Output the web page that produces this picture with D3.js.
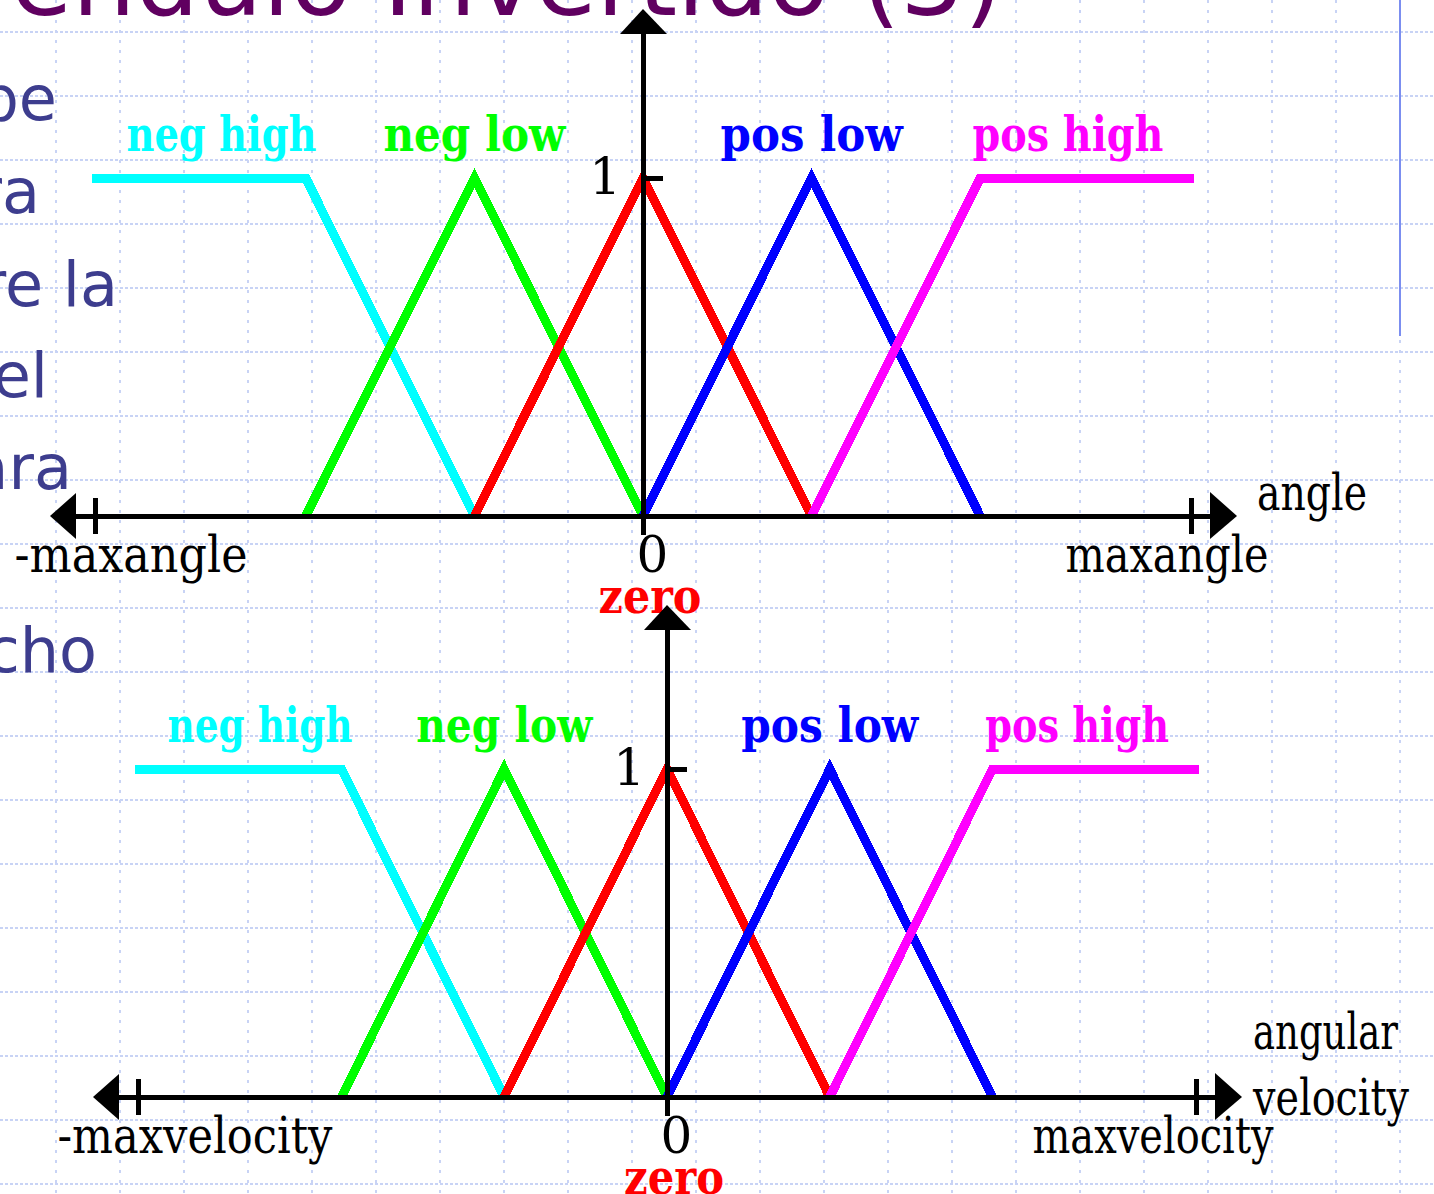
<!DOCTYPE html>
<html lang="es">
<head>
<meta charset="utf-8">
<title>Péndulo Invertido (3)</title>
<script src="https://cdnjs.cloudflare.com/ajax/libs/d3/7.8.5/d3.min.js"></script>
<style>
  body { margin: 0; background: #fff; }
  .grid line { stroke: #c8d3f5; stroke-width: 2; }
  .grid .h { stroke-dasharray: 3, 2; }
  .grid .v { stroke-dasharray: 3, 7; }
  .mf { fill: none; stroke-width: 9; shape-rendering: crispEdges; }
  .ax { stroke: #000; stroke-width: 5; shape-rendering: crispEdges; }
  .head { fill: #000; stroke: none; }
  .lab { font-family: "DejaVu Serif", serif; font-size: 50px; fill: #000; }
  .set { font-family: "DejaVu Serif", serif; font-size: 48px; font-weight: bold; }
  .bullet { font-family: "DejaVu Sans", Verdana, sans-serif; font-size: 62px; fill: #3d3d8e; }
  .title { font-family: "DejaVu Sans", Verdana, sans-serif; font-size: 100px; fill: #600060; }
</style>
</head>
<body>
<script>
// fuzzy sets, same shape for angle and angular velocity
const setNames = ["neg high", "neg low", "zero", "pos low", "pos high"];
const setColors = ["#00ffff", "#00ff00", "#ff0000", "#0000ff", "#ff00ff"];
const negHigh = [[-3.27, 1], [-2, 1], [-1, 0]];
const negLow = [[-2, 0], [-1, 1], [0, 0]];
const zero = [[-1, 0], [0, 1], [1, 0]];
const posLow = [[0, 0], [1, 1], [2, 0]];
const posHigh = [[1, 0], [2, 1], [3.27, 1]];
const sets = [negHigh, negLow, zero, posLow, posHigh];
const setLabelAt = [-2.5, -1, 0, 1, 2.52];

const maxValue = 3.25;
const angleTicks = ["-maxangle", "0", "maxangle"];
const velocityTicks = ["-maxvelocity", "0", "maxvelocity"];
const angleName = ["angle"];
const velocityName = ["angular", "velocity"];

const titleText = "Péndulo Invertido (3)";
const bulletText = ["be", "ra", "re la", "el", "ara", "cho"];

const width = 1434, height = 1194;

const svg = d3.select("body").append("svg")
  .attr("width", width)
  .attr("height", height)
  .attr("viewBox", [0, 0, width, height]);

svg.append("rect").attr("width", width).attr("height", height).attr("fill", "#fff");

// dotted background grid
const grid = svg.append("g").attr("class", "grid");
grid.selectAll("line.h").data(d3.range(32, height, 64)).join("line")
  .attr("class", "h").attr("x1", 0).attr("x2", width).attr("y1", d => d).attr("y2", d => d);
grid.selectAll("line.v").data(d3.range(56, width, 64)).join("line")
  .attr("class", "v").attr("y1", 0).attr("y2", height).attr("x1", d => d).attr("x2", d => d);

// slide title and left text (mostly hidden)
svg.append("text").attr("class", "title")
  .attr("x", 1003).attr("y", 15).attr("text-anchor", "end").text(titleText);

const bulletPos = [[57, 120], [40, 213], [118, 306], [48, 397], [72, 489], [97, 672]];
svg.selectAll("text.bullet").data(bulletText).join("text")
  .attr("class", "bullet")
  .attr("text-anchor", "end")
  .attr("x", (d, i) => bulletPos[i][0])
  .attr("y", (d, i) => bulletPos[i][1])
  .text(d => d);

svg.append("line")
  .attr("x1", 1400).attr("x2", 1400).attr("y1", 0).attr("y2", 336)
  .attr("stroke", "#7b8ef0").attr("stroke-width", 2);

const charts = [
  { xRange: [95, 1191], yRange: [516, 178], ticks: angleTicks, name: angleName,
    tickLen: [233, 0, 203], setLen: [190, 182, 103, 182, 191],
    nameDx: 20, nameY: [-6], nameLen: [110] },
  { xRange: [138, 1196], yRange: [1097, 769], ticks: velocityTicks, name: velocityName,
    tickLen: [275, 0, 241], setLen: [185, 176, 100, 177, 184],
    nameDx: 11, nameY: [-48, 18], nameLen: [145, 156] }
];

charts.forEach(drawChart);

function drawChart(c) {
  const x = d3.scaleLinear([-maxValue, maxValue], c.xRange);
  const y = d3.scaleLinear([0, 1], c.yRange);
  const g = svg.append("g");
  const line = d3.line().x(d => x(d[0])).y(d => y(d[1]));

  g.selectAll("path.mf").data(sets).join("path")
    .attr("class", "mf")
    .attr("stroke", (d, i) => setColors[i])
    .attr("d", line);

  const x0 = x(0), yb = y(0);
  const leftTip = x(-maxValue) - 45, rightTip = x(maxValue) + 46, topTip = y(1.5);

  // x axis
  g.append("line").attr("class", "ax")
    .attr("x1", leftTip + 10).attr("x2", rightTip - 10).attr("y1", yb).attr("y2", yb);
  g.append("path").attr("class", "head")
    .attr("d", `M${leftTip},${yb}L${leftTip + 26},${yb - 23}L${leftTip + 26},${yb + 23}Z`);
  g.append("path").attr("class", "head")
    .attr("d", `M${rightTip},${yb}L${rightTip - 27},${yb - 24}L${rightTip - 27},${yb + 23}Z`);

  const xAxis = g.append("g")
    .attr("transform", `translate(0,${yb})`)
    .call(d3.axisBottom(x).tickValues([-maxValue, 0, maxValue])
      .tickFormat((d, i) => c.ticks[i]).tickSize(18).tickSizeOuter(0));
  xAxis.select(".domain").remove();
  xAxis.selectAll(".tick line")
    .attr("class", "ax")
    .attr("y1", d => d === 0 ? 0 : -18);
  xAxis.selectAll(".tick text")
    .attr("class", "lab")
    .attr("dy", null)
    .attr("y", 56)
    .attr("x", (d, i) => [-81, 9, 77][i])
    .attr("text-anchor", (d, i) => ["start", "middle", "end"][i])
    .attr("textLength", (d, i) => c.tickLen[i] || null)
    .attr("lengthAdjust", "spacingAndGlyphs");

  // y axis
  g.append("line").attr("class", "ax")
    .attr("x1", x0).attr("x2", x0).attr("y1", topTip + 15).attr("y2", yb + 19);
  g.append("path").attr("class", "head")
    .attr("d", `M${x0},${topTip}L${x0 - 23},${topTip + 25}L${x0 + 24},${topTip + 25}Z`);

  const yAxis = g.append("g")
    .attr("transform", `translate(${x0},0)`)
    .call(d3.axisLeft(y).tickValues([1]).tickFormat(d3.format("d")).tickSize(19));
  yAxis.select(".domain").remove();
  yAxis.selectAll(".tick line").attr("class", "ax").attr("x2", 20);
  yAxis.selectAll(".tick text")
    .attr("class", "lab")
    .attr("dy", null)
    .attr("x", -22)
    .attr("y", 15);

  // variable name at the arrow
  g.selectAll("text.name").data(c.name).join("text")
    .attr("class", "lab name")
    .attr("x", rightTip + c.nameDx)
    .attr("y", (d, i) => yb + c.nameY[i])
    .attr("textLength", (d, i) => c.nameLen[i])
    .attr("lengthAdjust", "spacingAndGlyphs")
    .text(d => d);

  // set labels
  g.selectAll("text.set").data(setNames).join("text")
    .attr("class", "set")
    .attr("fill", (d, i) => setColors[i])
    .attr("text-anchor", "middle")
    .attr("x", (d, i) => x(setLabelAt[i]) + (i === 2 ? 7 : 0))
    .attr("y", (d, i) => i === 2 ? yb + 97 : y(1) - 27)
    .attr("textLength", (d, i) => c.setLen[i])
    .attr("lengthAdjust", "spacingAndGlyphs")
    .text(d => d);
}
</script>
</body>
</html>
